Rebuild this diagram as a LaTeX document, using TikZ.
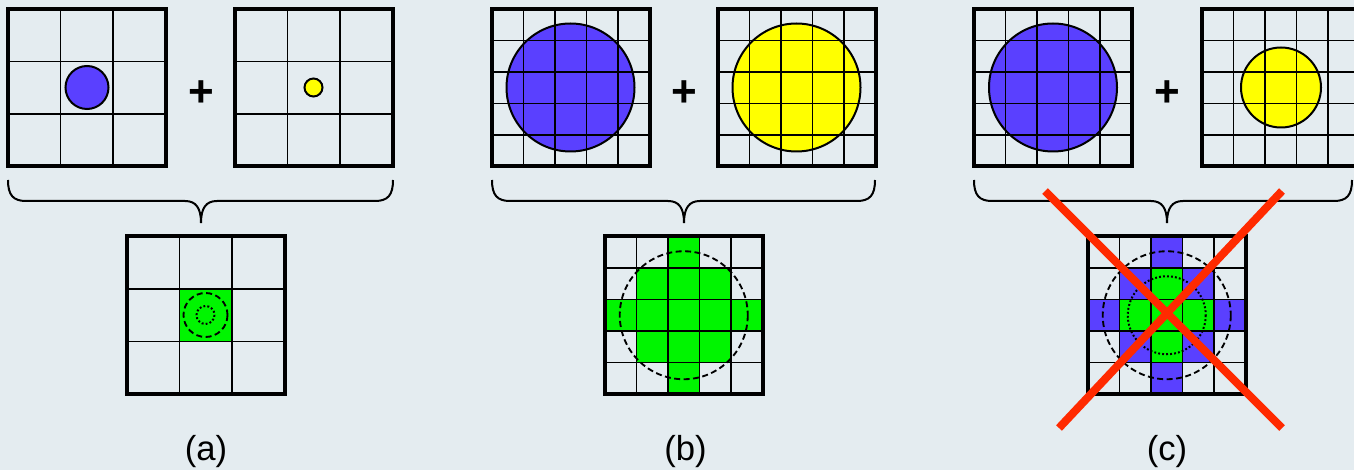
\documentclass[tikz,border=0pt]{standalone}
\usepackage{fontspec}
\setmainfont{Liberation Sans}
\definecolor{bg}{RGB}{228,236,240}
\definecolor{myblue}{RGB}{90,64,255}
\definecolor{myyellow}{RGB}{255,255,0}
\definecolor{mygreen}{RGB}{0,245,0}
\definecolor{myred}{RGB}{255,42,0}
\tikzset{
  thinline/.style={line width=1.3pt, black},
  thickline/.style={line width=3pt, black},
  circ/.style={line width=1.5pt, draw=black},
  bracestyle/.style={line width=1.5pt, black},
  dashcirc/.style={line width=1.4pt, dash pattern=on 4.5pt off 2.6pt},
  dotcirc/.style={line width=1.5pt, dash pattern=on 1.4pt off 1.6pt},
  plussign/.style={font=\fontsize{33}{33}\selectfont\bfseries, inner sep=0pt},
  caption/.style={font=\fontsize{26}{26}\selectfont, inner sep=0pt},
  cross/.style={line width=6pt, myred},
}
% #1 left x, #2 top y, #3 number of cells per side
\newcommand\drawgrid[3]{%
  \pgfmathsetmacro\cellsz{157.5/#3}%
  \pgfmathtruncatemacro\nmin{#3-1}%
  \foreach \k in {1,...,\nmin}{%
    \draw[thinline] ({#1+\k*\cellsz},#2) -- ++(0,157.5);
    \draw[thinline] (#1,{#2+\k*\cellsz}) -- ++(157.5,0);
  }%
  \draw[thickline] (#1,#2) rectangle ++(157.5,157.5);
}
% #1 left x, #2 top y, #3 cell size, #4 row, #5 col, #6 colour
\newcommand\fillcell[6]{%
  \fill[#6] ({#1+#5*#3},{#2+#4*#3}) rectangle ++(#3,#3);
}
% brace: #1 left x, #2 middle x, #3 right x
\newcommand\drawbrace[3]{%
  \draw[bracestyle] (#1,180) .. controls (#1,195) and ({#1+5},201) .. ({#1+18},201)
    -- ({#2-16},201) .. controls ({#2-5},201) and (#2,208) .. (#2,223)
    .. controls (#2,208) and ({#2+5},201) .. ({#2+16},201)
    -- ({#3-18},201) .. controls ({#3-5},201) and (#3,195) .. (#3,180);
}
\begin{document}
\begin{tikzpicture}[x=0.75pt,y=-0.75pt]
\fill[bg] (0,0) rectangle (1354,470);
\useasboundingbox (0,0) rectangle (1354,470);

% ---------------- panel (a) ----------------
\draw[circ, fill=myblue] (87,87.5) circle[radius=21.5];
\drawgrid{8}{9}{3}
\draw[circ, fill=myyellow] (313.5,87.5) circle[radius=9];
\drawgrid{235}{9}{3}
\node[plussign] (plusA) at (201,93.5) {+};
\drawbrace{8}{201}{393}
\fillcell{127}{236.5}{52.5}{1}{1}{mygreen}
\drawgrid{127}{236.5}{3}
\draw[dashcirc] (205.5,315) circle[radius=22];
\draw[dotcirc] (205.5,315) circle[radius=9];
\node[caption] (labA) at (206,452) {(a)};

% ---------------- panel (b) ----------------
\draw[circ, fill=myblue] (570.5,87.5) circle[radius=64];
\drawgrid{492}{9}{5}
\draw[circ, fill=myyellow] (796.5,87.5) circle[radius=64];
\drawgrid{718}{9}{5}
\node[plussign] (plusB) at (684,93.5) {+};
\drawbrace{492}{684}{875}
\foreach \r/\c in {0/2,1/1,1/2,1/3,2/0,2/1,2/2,2/3,2/4,3/1,3/2,3/3,4/2}{
  \fillcell{605}{236.5}{31.5}{\r}{\c}{mygreen}
}
\drawgrid{605}{236.5}{5}
\draw[dashcirc] (683.75,315.25) circle[radius=64];
\node[caption] (labB) at (685.5,452) {(b)};

% ---------------- panel (c) ----------------
\draw[circ, fill=myblue] (1053,87.5) circle[radius=64];
\drawgrid{974}{9}{5}
\draw[circ, fill=myyellow] (1281,87.5) circle[radius=40];
\drawgrid{1202}{9}{5}
\node[plussign] (plusC) at (1167,93.5) {+};
\drawbrace{974}{1167}{1352}
\foreach \r/\c in {0/2,1/1,1/3,2/0,2/4,3/1,3/3,4/2}{
  \fillcell{1088}{236.5}{31.5}{\r}{\c}{myblue}
}
\foreach \r/\c in {1/2,2/1,2/2,2/3,3/2}{
  \fillcell{1088}{236.5}{31.5}{\r}{\c}{mygreen}
}
\drawgrid{1088}{236.5}{5}
\draw[dashcirc] (1166.75,315.25) circle[radius=64];
\draw[dotcirc] (1166.75,315.25) circle[radius=39];
\coordinate (xTL) at (1045,191);
\coordinate (xBR) at (1282,428);
\coordinate (xTR) at (1282,191);
\coordinate (xBL) at (1059,428);
\draw[cross] (xTL) -- (xBR);
\draw[cross] (xTR) -- (xBL);
\node[caption] (labC) at (1167,452) {(c)};
\end{tikzpicture}
\end{document}
